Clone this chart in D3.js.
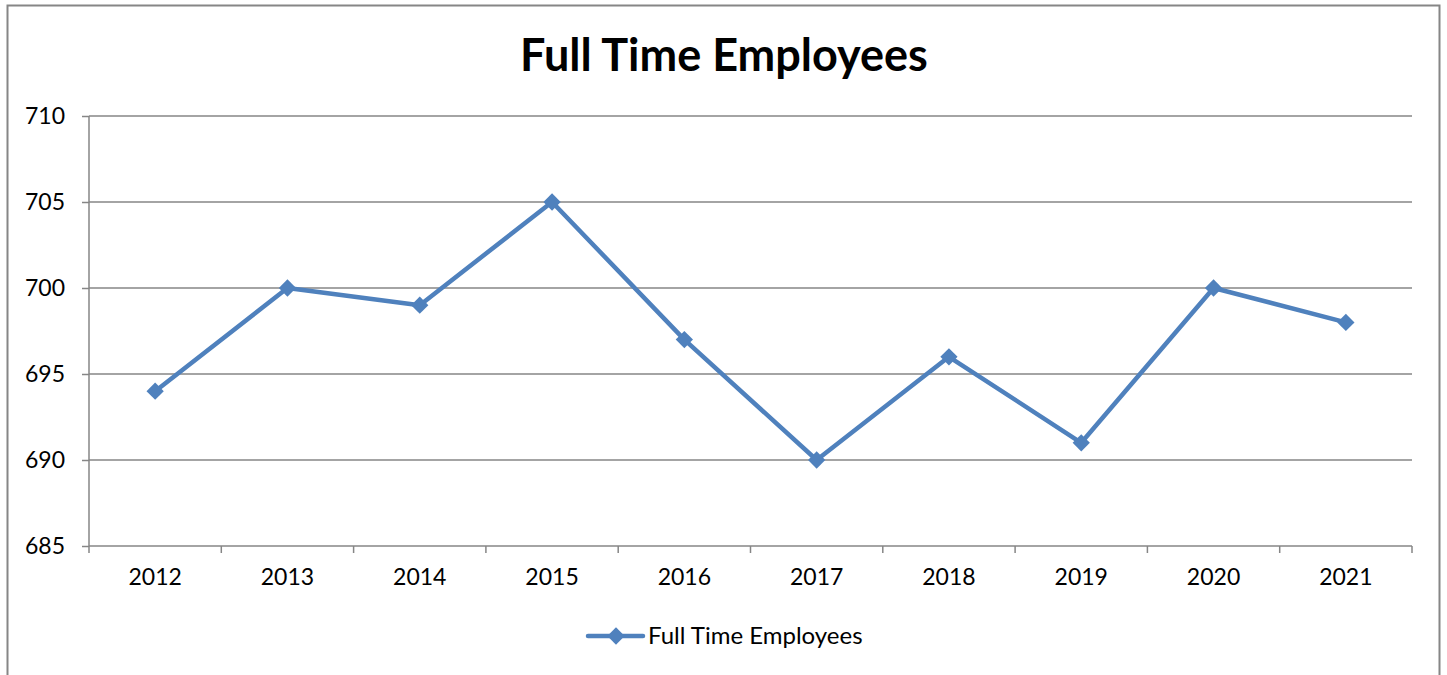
<!DOCTYPE html>
<html>
<head>
<meta charset="utf-8">
<script src="https://cdn.jsdelivr.net/npm/d3@7"></script>
<style>
  body { margin: 0; background: #fff; }
  text { font-family: Lato, "Open Sans", sans-serif; }
</style>
</head>
<body>
<div id="chart"></div>
<script>
// datos
const years = ["2012", "2013", "2014", "2015", "2016", "2017", "2018", "2019", "2020", "2021"];
const employees = [694, 700, 699, 705, 697, 690, 696, 691, 700, 698];
const yTicks = [685, 690, 695, 700, 705, 710];
const seriesName = "Full Time Employees";

const svgWidth = 1447, svgHeight = 675;
const margin = { top: 116, right: 35, bottom: 129, left: 89 };
const width = svgWidth - margin.left - margin.right;
const height = svgHeight - margin.top - margin.bottom;
const blue = "#4f81bd", grey = "#868686";

const root = d3.select("#chart").append("svg")
  .attr("width", svgWidth)
  .attr("height", svgHeight);

// marco exterior
root.append("path")
  .attr("d", "M7.5,680 V5.5 H1439.5 V680")
  .attr("fill", "none")
  .attr("stroke", grey)
  .attr("stroke-width", 2);

root.append("text")
  .attr("x", 724).attr("y", 71)
  .attr("text-anchor", "middle")
  .attr("font-size", 45)
  .attr("font-weight", "bold")
  .text(seriesName);

const svg = root.append("g").attr("transform", `translate(${margin.left},${margin.top})`);

const x = d3.scaleBand().domain(years).range([0, width]);
const y = d3.scaleLinear().domain([685, 710]).range([height, 0]);

// grid
svg.selectAll(".grid").data(yTicks.slice(1)).enter().append("line")
  .attr("x1", 0).attr("x2", width)
  .attr("y1", d => y(d)).attr("y2", d => y(d))
  .attr("stroke", grey).attr("stroke-width", 1.5);

// ejes
const yAxis = svg.append("g")
  .call(d3.axisLeft(y).tickValues(yTicks).tickSize(7).tickPadding(17));
const xAxis = svg.append("g")
  .attr("transform", `translate(0,${height})`)
  .call(d3.axisBottom(x).tickSize(0).tickPadding(23));

// ticks del eje x en los límites de las bandas
xAxis.selectAll(".bound").data(years.concat(["end"])).enter().append("line")
  .attr("x1", (d, i) => i * x.step()).attr("x2", (d, i) => i * x.step())
  .attr("y1", 0).attr("y2", 7)
  .attr("stroke", grey).attr("stroke-width", 1.5);

[yAxis, xAxis].forEach(a => {
  a.select(".domain").attr("stroke", grey).attr("stroke-width", 1.5);
  a.selectAll(".tick line").attr("stroke", grey).attr("stroke-width", 1.5);
  a.selectAll(".tick text").attr("font-size", 23).attr("fill", "#000")
    .style("font-family", "Lato, 'Open Sans', sans-serif");
});
yAxis.select(".domain").attr("d", `M0,0V${height}`);
xAxis.select(".domain").attr("d", `M0,0H${width}`);

const pts = years.map((yr, i) => ({ yr, v: employees[i] }));
const line = d3.line().x(d => x(d.yr) + x.bandwidth() / 2).y(d => y(d.v));

svg.append("path").datum(pts)
  .attr("d", line)
  .attr("fill", "none")
  .attr("stroke", blue)
  .attr("stroke-width", 4.5)
  .attr("stroke-linejoin", "round");

const diamond = d3.symbol().type(d3.symbolDiamond2).size(190);
svg.selectAll(".pt").data(pts).enter().append("path")
  .attr("d", diamond)
  .attr("transform", d => `translate(${x(d.yr) + x.bandwidth() / 2},${y(d.v)})`)
  .attr("fill", blue);

// leyenda
const legend = root.append("g").attr("transform", "translate(588,636)");
legend.append("line")
  .attr("x1", 0).attr("x2", 55)
  .attr("stroke", blue).attr("stroke-width", 4.5).attr("stroke-linecap", "round");
legend.append("path")
  .attr("d", diamond)
  .attr("transform", "translate(28,0)")
  .attr("fill", blue);
legend.append("text")
  .attr("x", 60).attr("y", 0).attr("dy", "0.35em")
  .attr("font-size", 24)
  .text(seriesName);
</script>
</body>
</html>
